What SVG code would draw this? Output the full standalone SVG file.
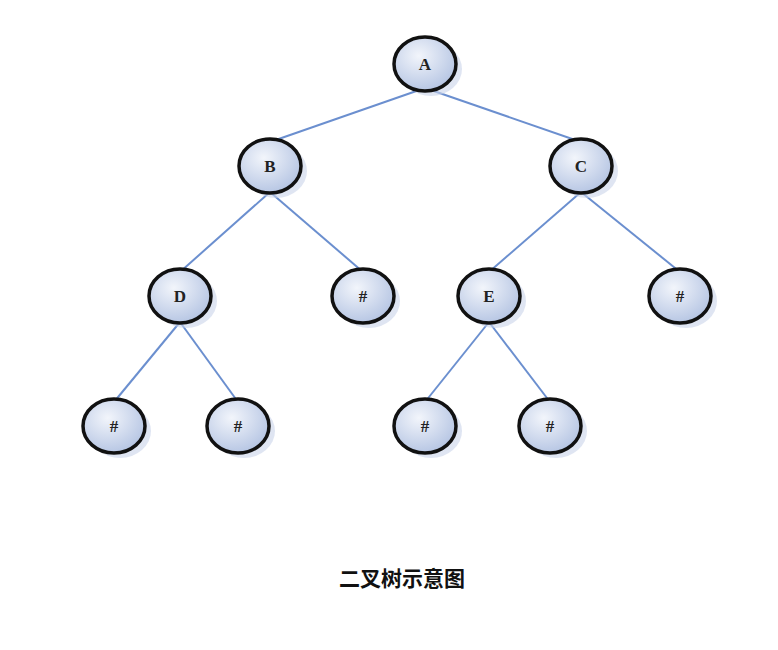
<svg xmlns="http://www.w3.org/2000/svg" width="778" height="650" viewBox="0 0 778 650">
<style>
.e{stroke:#6b8fcf;stroke-width:2;fill:none}
.n{fill:url(#g);stroke:#111;stroke-width:3.5}
.s{fill:#c9d4ea;opacity:.6}
.t{font-family:"Liberation Serif",serif;font-weight:bold;font-size:17px;fill:#222;text-anchor:middle}
</style>
<defs>
<radialGradient id="g" cx="40%" cy="35%" r="70%"><stop offset="0" stop-color="#f2f5fb"/><stop offset="1" stop-color="#b3c3e2"/></radialGradient>
<g id="nd"><ellipse class="s" cx="6" cy="5" rx="31" ry="27"/><ellipse class="n" cx="0" cy="0" rx="31" ry="27"/></g>
</defs>
<rect width="778" height="650" fill="#fff"/>
<g id="connectors">
<line class="e" x1="425" y1="88" x2="270" y2="142"/>
<line class="e" x1="425" y1="88" x2="581" y2="142"/>
<line class="e" x1="270" y1="192" x2="180" y2="272"/>
<line class="e" x1="270" y1="192" x2="363" y2="272"/>
<line class="e" x1="581" y1="192" x2="489" y2="272"/>
<line class="e" x1="581" y1="192" x2="680" y2="272"/>
<line class="e" x1="180" y1="322" x2="114" y2="402"/>
<line class="e" x1="180" y1="322" x2="238" y2="402"/>
<line class="e" x1="489" y1="322" x2="425" y2="402"/>
<line class="e" x1="489" y1="322" x2="550" y2="402"/>
</g>
<g id="A"><use href="#nd" x="425" y="64"/><text class="t" x="425" y="70">A</text></g>
<g id="B"><use href="#nd" x="270" y="166"/><text class="t" x="270" y="172">B</text></g>
<g id="C"><use href="#nd" x="581" y="166"/><text class="t" x="581" y="172">C</text></g>
<g id="D"><use href="#nd" x="180" y="296"/><text class="t" x="180" y="302">D</text></g>
<g id="B_null"><use href="#nd" x="363" y="296"/><text class="t" x="363" y="302">#</text></g>
<g id="E"><use href="#nd" x="489" y="296"/><text class="t" x="489" y="302">E</text></g>
<g id="C_null"><use href="#nd" x="680" y="296"/><text class="t" x="680" y="302">#</text></g>
<g id="D_l"><use href="#nd" x="114" y="426"/><text class="t" x="114" y="432">#</text></g>
<g id="D_r"><use href="#nd" x="238" y="426"/><text class="t" x="238" y="432">#</text></g>
<g id="E_l"><use href="#nd" x="425" y="426"/><text class="t" x="425" y="432">#</text></g>
<g id="E_r"><use href="#nd" x="550" y="426"/><text class="t" x="550" y="432">#</text></g>
<text x="402" y="586" font-family="'Noto Sans CJK SC',sans-serif" font-weight="bold" font-size="21" text-anchor="middle" fill="#111">二叉树示意图</text>
</svg>
